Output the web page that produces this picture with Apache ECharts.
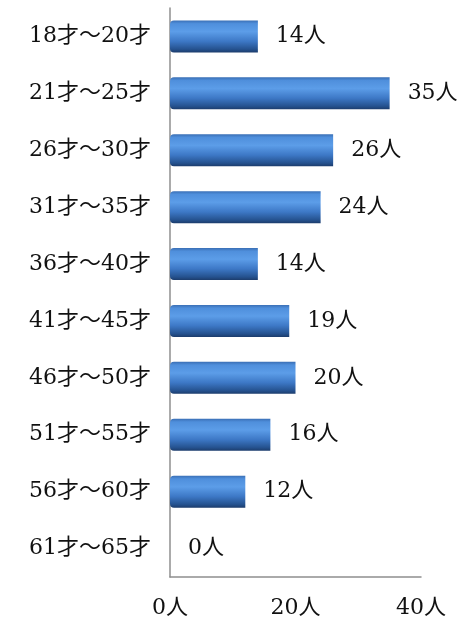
<!DOCTYPE html>
<html>
<head>
<meta charset="utf-8">
<script src="https://cdn.jsdelivr.net/npm/echarts@6/dist/echarts.min.js"></script>
<style>html,body{margin:0;padding:0;background:#fff}#c{width:475px;height:624px}</style>
</head>
<body>
<div id="c"></div>
<script>
const categories = ['18才～20才','21才～25才','26才～30才','31才～35才','36才～40才','41才～45才','46才～50才','51才～55才','56才～60才','61才～65才'];
const values = [14,35,26,24,14,19,20,16,12,0];
const xTicks = [0,20,40];

const FONT = '"DejaVu Serif","Liberation Serif","Noto Sans CJK JP",serif';
const chart = echarts.init(document.getElementById('c'));
chart.setOption({
  animation:false,
  backgroundColor:'#fff',
  grid:{left:170,right:54,top:8,bottom:47,containLabel:false},
  xAxis:{
    type:'value',min:xTicks[0],max:xTicks[xTicks.length-1],interval:20,
    splitLine:{show:false},
    axisTick:{show:false},
    axisLine:{show:true,lineStyle:{color:'#8f8f8f',width:1.5}},
    axisLabel:{formatter:'{value}人',color:'#111',fontSize:22,fontFamily:FONT,margin:20}
  },
  yAxis:{
    type:'category',data:categories,inverse:true,
    axisTick:{show:false},
    axisLine:{show:true,lineStyle:{color:'#8f8f8f',width:1.5}},
    axisLabel:{color:'#111',fontSize:22,fontFamily:FONT,margin:19}
  },
  series:[{
    type:'bar',data:values,barWidth:32,
    itemStyle:{
      borderRadius:[4,0,0,4],
      color:new echarts.graphic.LinearGradient(0,0,0,1,[
        {offset:0,color:'#3a6fb5'},
        {offset:0.1,color:'#4f8fdc'},
        {offset:0.35,color:'#5c9de8'},
        {offset:0.65,color:'#3d78c6'},
        {offset:0.9,color:'#25528f'},
        {offset:1,color:'#1c3c6c'}
      ])
    },
    label:{show:true,position:'right',distance:18,formatter:'{c}人',color:'#111',fontSize:22,fontFamily:FONT}
  }]
});
</script>
</body>
</html>
